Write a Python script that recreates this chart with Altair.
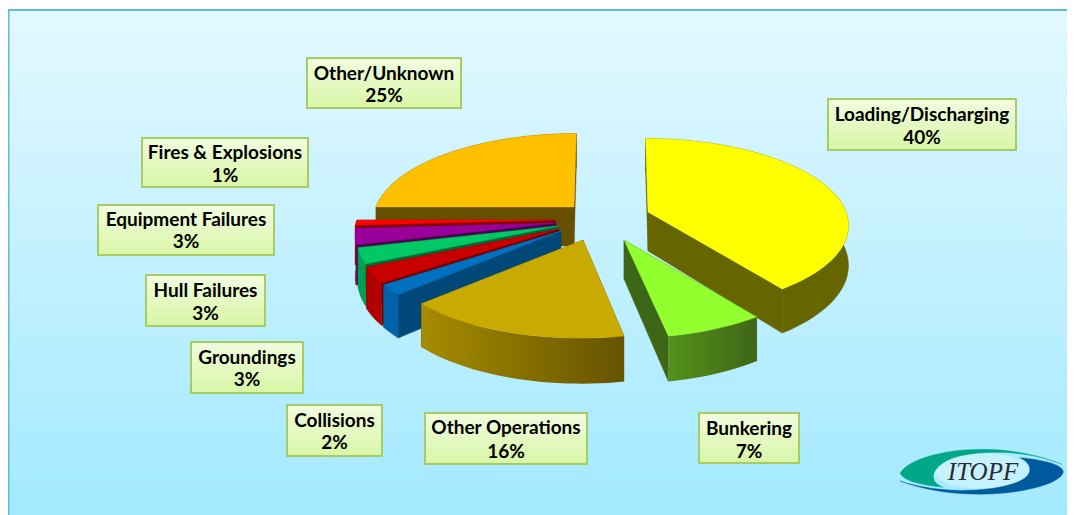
import math
import altair as alt

# ---- chart values ----
causes = ["Loading/Discharging", "Bunkering", "Other Operations", "Collisions", "Groundings",
          "Hull Failures", "Equipment Failures", "Fires & Explosions", "Other/Unknown"]
shares = [40, 7, 16, 2, 3, 3, 3, 1, 25]
top_colors = ["#ffff00", "#92ff2e", "#c8aa00", "#0070c0", "#c80000", "#00c864", "#990099", "#ff0000", "#ffc000"]
wall_colors = ["#666600", "#3d6616", "#6b5700", "#004878", "#700000", "#006a38", "#4a004a", "#800000", "#665000"]
rim_colors = ["#666600", "#3d6616", "#6b5700", "#0062a8", "#b00000", "#00a050", "#7d007d", "#b00000", "#665000"]
rim_gradients = {1: ("#55921c", "#3d6616"), 2: ("#a68c00", "#665300")}

# ---- layout of the exploded pie ----
slice_centers = [(648, 212), (624, 240), (583, 240), (561, 231), (559, 229),
                 (558, 226), (556, 223), (555, 220), (574, 207)]
RX, RY, PERSP, DEPTH, VANISH, VP_GAIN = 198, 84, 0.144, 39, 610, 0.5
draw_order = [8, 0, 1, 7, 6, 5, 4, 3, 2]

# ---- layout of the labels: left, right, top, bottom, first line y, second line y ----
boxes = [(828, 1016, 99, 150, 115, 138), (699, 799, 413, 463, 429, 452), (425, 587, 413, 464, 428, 452),
         (287, 382, 405, 456, 421, 443), (191, 303, 342, 393, 358, 380), (146, 265, 275, 326, 291, 314),
         (98, 274, 205, 255, 220, 242), (142, 308, 138, 187, 153, 176), (307, 461, 58, 108, 74, 96)]

XS = alt.Scale(domain=[8, 1067])
YS = alt.Scale(domain=[515, 8])
X = alt.X("x:Q", scale=XS, axis=None, title=None)
X2 = alt.X2("x2:Q")
Y = alt.Y("y:Q", scale=YS, axis=None, title=None)
Y2 = alt.Y2("y2:Q")


def project(center, deg, radius=1.0):
    a = math.radians(deg)
    ux, uy = radius * math.sin(a), radius * math.cos(a)
    s = 1 / (1 + PERSP * uy)
    x = center[0] + RX * ux * s + (center[0] - VANISH) * (s - 1) * VP_GAIN
    y = center[1] - RY * uy * s
    return x, y, s


def rnd(points):
    return [[round(p[0], 1), round(p[1], 1)] for p in points]


def geo(polys, fill, stroke=True):
    feats = [{"type": "Feature", "properties": {},
              "geometry": {"type": "Polygon", "coordinates": [rnd(p + p[:1])]}} for p in polys]
    data = alt.InlineData(values={"type": "FeatureCollection", "features": feats},
                          format=alt.DataFormat(type="json", property="features"))
    kw = {"stroke": fill, "strokeWidth": 0.4} if stroke else {"strokeWidth": 0}
    return alt.Chart(data).mark_geoshape(fill=fill, **kw).project(
        type="identity", scale=1, translate=[-8, -8])


def hgrad(a, b):
    return alt.Gradient(gradient="linear", x1=0, x2=1, y1=0, y2=0,
                        stops=[alt.GradientStop(color=a, offset=0), alt.GradientStop(color=b, offset=1)])


def vgrad(a, b):
    return alt.Gradient(gradient="linear", x1=0, x2=0, y1=0, y2=1,
                        stops=[alt.GradientStop(color=a, offset=0), alt.GradientStop(color=b, offset=1)])


layers = []

# background and frame
bg = [{"x": 9, "x2": 1067, "y": 11, "y2": 515}]
layers.append(alt.Chart(alt.Data(values=bg)).mark_rect(fill=vgrad("#e2f8ff", "#a3e9ff")).encode(x=X, x2=X2, y=Y, y2=Y2))
frame = [{"x": 8, "x2": 9.5, "y": 10, "y2": 515}, {"x": 8, "x2": 1067, "y": 9, "y2": 11}]
layers.append(alt.Chart(alt.Data(values=frame)).mark_rect(fill="#63bcd3").encode(x=X, x2=X2, y=Y, y2=Y2))

# pie
starts = []
acc = 0
for v in shares:
    starts.append(acc)
    acc += v

for i in draw_order:
    c = slice_centers[i]
    a0 = starts[i] * 3.6
    a1 = (starts[i] + shares[i]) * 3.6
    n = max(2, int((a1 - a0) / 2))
    angles = [a0 + (a1 - a0) * k / n for k in range(n + 1)]
    pts = [project(c, a) for a in angles]
    rim_top = [(p[0], p[1]) for p in pts]
    rim_bot = [(p[0], p[1] + DEPTH * p[2]) for p in pts]
    apex = (c[0], c[1])
    apex_b = (c[0], c[1] + DEPTH)
    walls = [[apex, rim_top[0], rim_bot[0], apex_b], [apex, rim_top[-1], rim_bot[-1], apex_b]]
    layers.append(geo(walls, wall_colors[i]))
    rim = [rim_top + rim_bot[::-1]]
    if i in rim_gradients:
        layers.append(geo(rim, hgrad(*rim_gradients[i]), stroke=False))
    else:
        layers.append(geo(rim, rim_colors[i]))
    layers.append(geo([[apex] + rim_top], top_colors[i]))

# labels
rows = []
for name, v, b in zip(causes, shares, boxes):
    rows.append({"x": b[0], "x2": b[1], "y": b[2], "y2": b[3], "xc": (b[0] + b[1]) / 2,
                 "y1": b[4], "y_2": b[5], "name": name, "pct": f"{v}%"})
tbl = alt.Data(values=rows)
layers.append(alt.Chart(tbl).mark_rect(fill=vgrad("#f1fce0", "#d8f6a6"), stroke="#a9cb63", strokeWidth=2).encode(
    x=X, x2=X2, y=Y, y2=Y2))
text_kw = dict(font="Lato", fontWeight="bold", fontSize=19, color="#000000", baseline="middle", align="center")
layers.append(alt.Chart(tbl).mark_text(**text_kw).encode(
    x=alt.X("xc:Q", scale=XS, axis=None),
    y=alt.Y("y1:Q", scale=YS, axis=None), text="name:N"))
layers.append(alt.Chart(tbl).mark_text(**text_kw).encode(
    x=alt.X("xc:Q", scale=XS, axis=None),
    y=alt.Y("y_2:Q", scale=YS, axis=None), text="pct:N"))


# logo
def bez(p0, p1, p2, p3, n=24):
    out = []
    for k in range(n + 1):
        t = k / n
        u = 1 - t
        out.append((u**3 * p0[0] + 3 * u * u * t * p1[0] + 3 * u * t * t * p2[0] + t**3 * p3[0],
                    u**3 * p0[1] + 3 * u * u * t * p1[1] + 3 * u * t * t * p2[1] + t**3 * p3[1]))
    return out


def lg(x, y):
    return (885 + x / 3, 435 + y / 3)


teal = (bez(lg(45, 115), lg(80, 50), lg(330, 5), lg(530, 88))
        + bez(lg(530, 88), lg(440, 50), lg(320, 45), lg(240, 60))
        + bez(lg(240, 60), lg(150, 75), lg(115, 135), lg(175, 157))
        + bez(lg(175, 157), lg(110, 150), lg(60, 140), lg(45, 115)))
blue = (bez(lg(405, 68), lg(480, 75), lg(535, 90), lg(535, 112))
        + bez(lg(535, 112), lg(520, 165), lg(250, 215), lg(45, 138))
        + bez(lg(45, 138), lg(170, 180), lg(330, 170), lg(400, 140))
        + bez(lg(400, 140), lg(450, 118), lg(440, 85), lg(405, 68)))
inner = [lg(290 + 146 * math.cos(k * math.pi / 36), 108 + 52 * math.sin(k * math.pi / 36)) for k in range(72)]
layers.append(geo([inner], "#c6f2ff"))
layers.append(geo([teal], "#00a887"))
layers.append(geo([blue], "#005a9e"))
layers.append(alt.Chart(alt.Data(values=[{"x": 983, "y": 472, "t": "ITOPF"}])).mark_text(
    font="Liberation Serif", fontStyle="italic", fontSize=25, color="#2a2a30", baseline="middle", align="center"
).encode(x=X, y=Y, text="t:N"))

chart = alt.layer(*layers).resolve_scale(x="shared", y="shared").properties(
    width=1059, height=507, padding=0, autosize=alt.AutoSizeParams(type="none"), background="#ffffff"
).configure_view(stroke=None)

chart.save("out.html", embed_options={"renderer": "svg", "actions": False})
